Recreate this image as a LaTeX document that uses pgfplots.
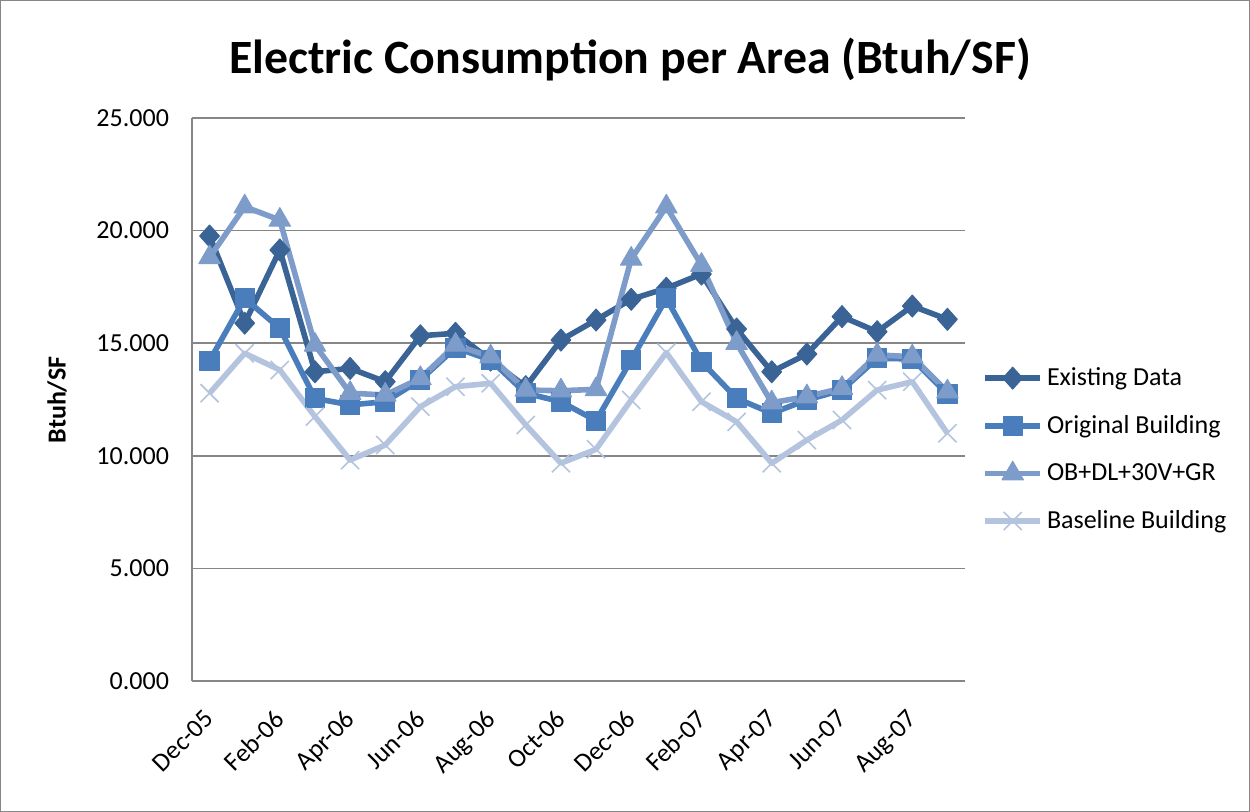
\documentclass[border=0pt]{standalone}
\usepackage{fontspec}
\setmainfont{Carlito}
\usepackage{pgfplots}
\usepackage{pgfplotstable}
\pgfplotsset{compat=1.18}
\definecolor{cA}{RGB}{59,100,150}
\definecolor{cB}{RGB}{74,125,187}
\definecolor{cC}{RGB}{126,156,201}
\definecolor{cD}{RGB}{180,196,222}
\definecolor{gridgray}{RGB}{134,134,134}

\pgfplotstableread{
x  e      o      b      l
0  19.76  14.22  18.81  12.78
1  15.89  16.99  21.06  14.55
2  19.14  15.66  20.47  13.81
3  13.73  12.55  14.92  11.74
4  13.88  12.26  12.78  9.81
5  13.29  12.40  12.70  10.48
6  15.33  13.37  13.44  12.18
7  15.44  14.80  14.92  13.07
8  14.25  14.25  14.40  13.22
9  13.07  12.78  12.92  11.37
10 15.14  12.40  12.89  9.67
11 16.03  11.56  12.95  10.29
12 16.95  14.25  18.74  12.48
13 17.44  16.99  21.06  14.58
14 18.07  14.18  18.47  12.40
15 15.63  12.55  15.00  11.51
16 13.73  11.89  12.36  9.67
17 14.52  12.48  12.63  10.70
18 16.18  12.92  13.00  11.59
19 15.51  14.33  14.48  12.92
20 16.65  14.30  14.40  13.29
21 16.06  12.74  12.85  11.00
}\datatable

\begin{document}
\begin{tikzpicture}
\draw[gridgray, line width=0.6pt] (0.3pt,-0.3pt) rectangle (624.7pt,-405.7pt);
\node[font={\fontsize{23.9}{28}\selectfont\bfseries}] at (315pt,-30pt) {Electric Consumption per Area (Btuh/SF)};
\node[rotate=90, font={\fontsize{13}{15.6}\selectfont\bfseries}] at (28.5pt,-200pt) {Btuh/SF};
\begin{axis}[
  at={(96pt,-340.5pt)}, anchor=south west,
  width=386.5pt, height=281.5pt, scale only axis,
  xmin=-0.5, xmax=21.5, ymin=0, ymax=25,
  xtick={0,2,...,20},
  xticklabels={Dec-05,Feb-06,Apr-06,Jun-06,Aug-06,Oct-06,Dec-06,Feb-07,Apr-07,Jun-07,Aug-07},
  ytick={0,5,...,25},
  /pgf/number format/assume math mode=true,
  yticklabel style={/pgf/number format/fixed, /pgf/number format/fixed zerofill, /pgf/number format/precision=3, xshift=-8pt},
  xticklabel style={rotate=45, anchor=north east, yshift=-4pt, xshift=-8.5pt},
  tick label style={font={\fontsize{13}{15.6}\selectfont}},
  major tick length=0pt,
  axis x line*=bottom, axis y line*=left,
  axis line style={draw=gridgray, line width=0.8pt, -},
  ymajorgrids, major grid style={draw=gridgray, line width=0.8pt},
  clip=false,
  legend style={at={(1.022,0.411)}, anchor=west, draw=none, fill=none,
    font={\fontsize{13}{15.6}\selectfont}, row sep=9.5pt, inner sep=0pt,
    cells={anchor=west}},
  legend image code/.code={\draw[#1, mark repeat=2, mark phase=2] plot coordinates {(0pt,0pt) (13.75pt,0pt) (27.5pt,0pt)};},
  every axis plot/.append style={line width=2.8pt, line join=round},
]
\addplot[cA, mark=diamond*, mark size=5.5pt, mark options={solid, xscale=1.2, line width=0.5pt, fill=cA}] table[x=x, y=e] {\datatable};
\addlegendentry{Existing Data}
\addplot[cB, mark=square*, mark size=4.8pt, mark options={solid, line width=0.5pt, fill=cB}] table[x=x, y=o] {\datatable};
\addlegendentry{Original Building}
\addplot[cC, mark=triangle*, mark size=6.2pt, mark options={solid, line width=0.5pt, fill=cC}] table[x=x, y=b] {\datatable};
\addlegendentry{OB+DL+30V+GR}
\addplot[cD, mark=x, mark size=6.4pt, mark options={solid, line width=0.8pt}] table[x=x, y=l] {\datatable};
\addlegendentry{Baseline Building}
\end{axis}
\end{tikzpicture}
\end{document}
